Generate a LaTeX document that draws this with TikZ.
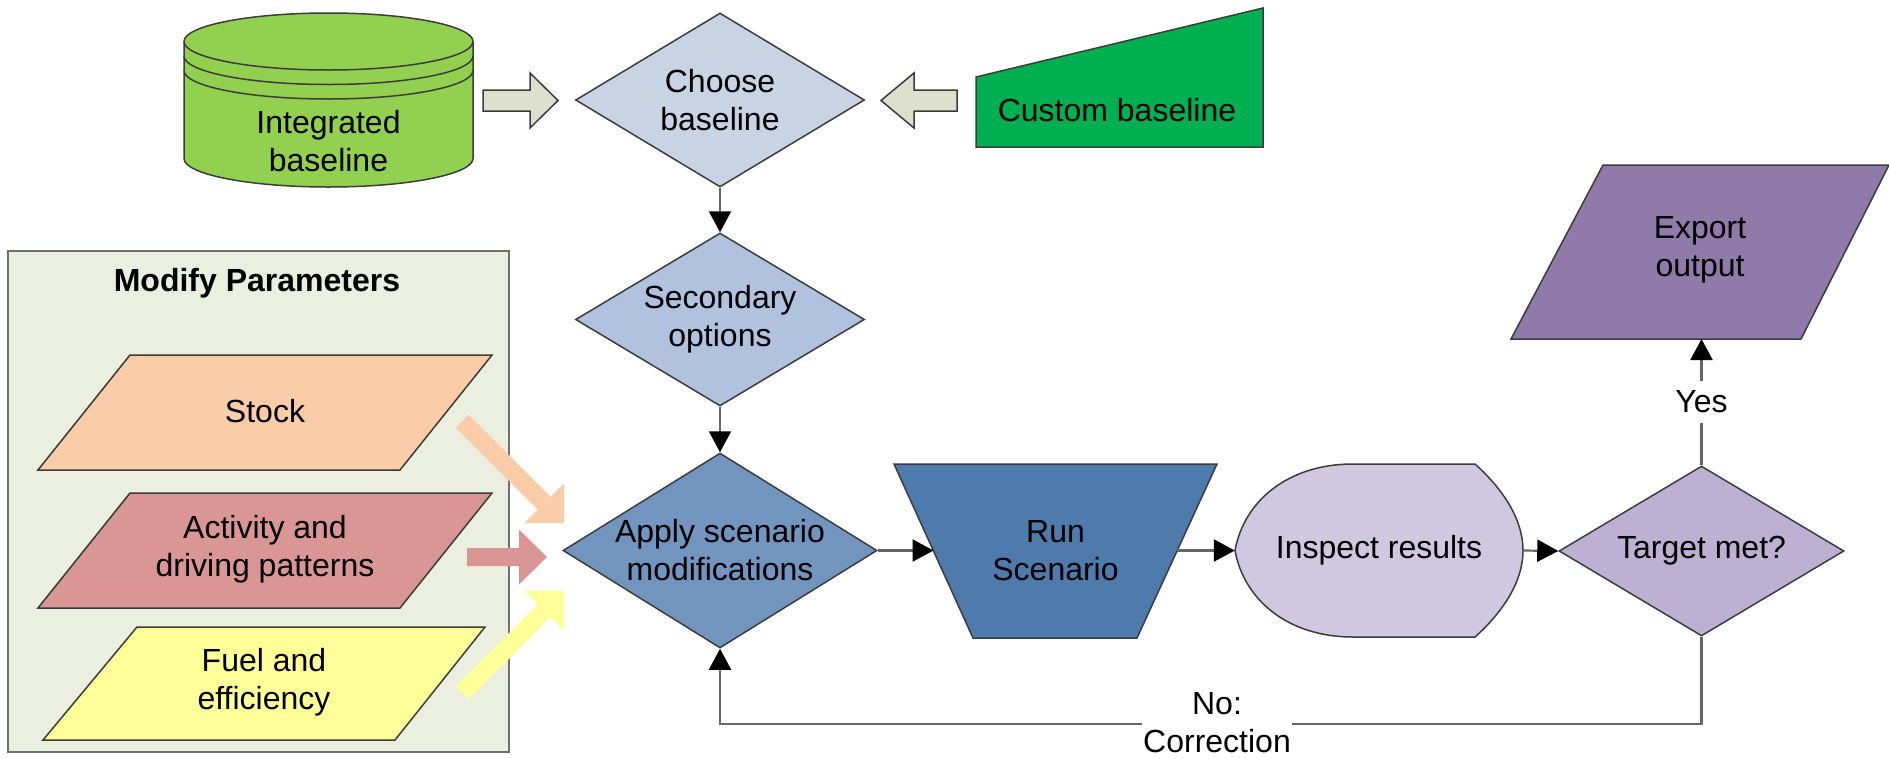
\documentclass[tikz,border=0pt]{standalone}
\usepackage{fontspec}
\setmainfont{Liberation Sans}
\usetikzlibrary{shapes.geometric,arrows.meta}
\definecolor{outc}{HTML}{3C3C3C}
\definecolor{connc}{HTML}{666666}
\definecolor{cylc}{HTML}{92D050}
\definecolor{custc}{HTML}{00B050}
\definecolor{hollowc}{HTML}{DDE0CC}
\definecolor{choosec}{HTML}{C8D4E4}
\definecolor{secc}{HTML}{B0C2DE}
\definecolor{applyc}{HTML}{7295C0}
\definecolor{runc}{HTML}{4F7AAC}
\definecolor{inspc}{HTML}{D0C8E0}
\definecolor{targc}{HTML}{BEB0D2}
\definecolor{expc}{HTML}{8F7AAA}
\definecolor{panelc}{HTML}{EBEFDF}
\definecolor{panelb}{HTML}{707070}
\definecolor{stockc}{HTML}{FACCA8}
\definecolor{actc}{HTML}{DA9694}
\definecolor{fuelc}{HTML}{FFFF99}
\begin{document}
\begin{tikzpicture}[x=1pt,y=-1pt,font=\fontsize{32}{38}\selectfont,
  outl/.style={draw=outc,line width=1.5pt},
  conn/.style={draw=connc,line width=2.2pt,-{Triangle[length=21pt,width=22pt,color=black]}},
  dia/.style={diamond,outl,inner sep=0pt,align=center},
  txt/.style={align=center,inner sep=0pt},
  lbl/.style={fill=white,align=center,inner xsep=1pt,inner ysep=10pt}]
\useasboundingbox (0,0) rectangle (1889,758);
\fill[white] (0,0) rectangle (1889,758);

% Modify Parameters panel
\draw[fill=panelc,draw=panelb,line width=2pt] (8,251) rectangle (509,752);
\node[font=\fontsize{32}{38}\selectfont\bfseries] (title) at (257,283) {Modify Parameters};

\draw[outl,fill=stockc] (130,355) -- (492,355) -- (400,470) -- (38,470) -- cycle;
\node[txt] (stock) at (265,411) {Stock};
\draw[outl,fill=actc] (130,493) -- (492,493) -- (400,608) -- (38,608) -- cycle;
\node[txt] (activity) at (265,549) {Activity and\\driving patterns};
\draw[outl,fill=fuelc] (137,627) -- (485,627) -- (395,740) -- (43,740) -- cycle;
\node[txt] (fuel) at (264,682) {Fuel and\\efficiency};

% coloured block arrows
\fill[stockc] (468.6,414.8) -- (550.6,496.8) -- (564,483.4) -- (564,523) -- (524.4,523) -- (537.8,509.6) -- (455.8,427.6) -- cycle;
\fill[actc] (467,548) -- (519,548) -- (519,529.5) -- (547,557) -- (519,584.5) -- (519,566) -- (467,566) -- cycle;
\fill[fuelc] (455.8,686.4) -- (537.8,604.4) -- (524.4,591) -- (564,591) -- (564,630.6) -- (550.6,617.2) -- (468.6,699.2) -- cycle;

% cylinder
\draw[outl,fill=cylc] (184,41.5) -- (184,158.5)
  .. controls (184,174.2) and (248.7,187) .. (328.5,187)
  .. controls (408.3,187) and (473,174.2) .. (473,158.5) -- (473,41.5)
  .. controls (473,25.8) and (408.3,13) .. (328.5,13)
  .. controls (248.7,13) and (184,25.8) .. (184,41.5) -- cycle;
\foreach \yy in {41.5,56,70.5}{
  \draw[outl] (184,\yy) .. controls (184,\yy+15.7) and (248.7,\yy+28.5) .. (328.5,\yy+28.5)
    .. controls (408.3,\yy+28.5) and (473,\yy+15.7) .. (473,\yy);
}
\node[txt] (cyl) at (328.5,141) {Integrated\\baseline};

% custom baseline (manual input)
\draw[outl,fill=custc] (976,77) -- (1263,8) -- (1263,147) -- (976,147) -- cycle;
\node[txt] (custom) at (1117,110) {Custom baseline};

% hollow block arrows
\draw[outl,fill=hollowc] (483,90) -- (530,90) -- (530,73) -- (558,100.5) -- (530,128) -- (530,111) -- (483,111) -- cycle;
\draw[outl,fill=hollowc] (957,90) -- (914,90) -- (914,73) -- (881,100.5) -- (914,128) -- (914,111) -- (957,111) -- cycle;

% inspect results (display shape)
\draw[outl,fill=inspc] (1353,464) -- (1475,464)
  .. controls (1505,491) and (1523,521) .. (1523,550.5)
  .. controls (1523,580) and (1505,610) .. (1475,637) -- (1353,637)
  .. controls (1288,637) and (1244,600) .. (1235,550.5)
  .. controls (1244,501) and (1288,464) .. (1353,464) -- cycle;
\node[txt,minimum width=288,minimum height=173] (inspect) at (1379,550.5) {Inspect results};

% diamonds
\node[dia,fill=choosec,aspect=1.66,minimum width=289,minimum height=174] (choose) at (720,100) {Choose\\baseline};
\node[dia,fill=secc,aspect=1.67,minimum width=289,minimum height=173] (secondary) at (720,319.5) {Secondary\\options};
\node[dia,fill=applyc,aspect=1.61,minimum width=314,minimum height=195] (apply) at (720,550.5) {Apply scenario\\modifications};
\node[dia,fill=targc,aspect=1.68,minimum width=285,minimum height=170] (target) at (1701.5,551) {Target met?};

% run scenario (inverted trapezoid)
\draw[outl,fill=runc] (894,464) -- (1217,464) -- (1137,638) -- (973,638) -- cycle;
\node[txt] (run) at (1055.5,550.5) {Run\\Scenario};
\coordinate (runL) at (933.5,550.5);
\coordinate (runR) at (1177,550.5);

% export output
\draw[outl,fill=expc] (1603,165) -- (1889,165) -- (1801,339) -- (1511,339) -- cycle;
\node[txt] (export) at (1700,250) {Export\\output};
\coordinate (expB) at (1701.5,339);

% connectors
\draw[conn] (choose.south) -- (secondary.north);
\draw[conn] (secondary.south) -- (apply.north);
\draw[conn] (apply.east) -- (runL);
\draw[conn] (runR) -- (inspect.west);
\draw[conn] (inspect.east) -- (target.west);
\draw[conn] (target.north) -- (expB);
\node[lbl] (yes) at (1701.5,402) {Yes};
\draw[conn] (target.south) -- ++(0,87) -| (apply.south);
\node[lbl,inner ysep=0pt] (nocorr) at (1217,722.5) {No:\\Correction};
\end{tikzpicture}
\end{document}
